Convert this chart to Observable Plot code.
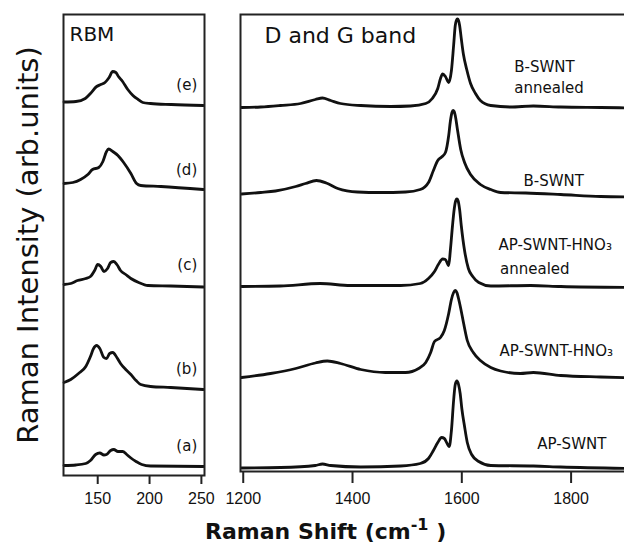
<!DOCTYPE html>
<html><head><meta charset="utf-8">
<script src="https://cdn.jsdelivr.net/npm/d3@7"></script>
<script src="https://cdn.jsdelivr.net/npm/@observablehq/plot@0.6"></script>
<style>
html,body{margin:0;padding:0;background:#fff;}
#chart{position:relative;width:624px;height:546px;overflow:hidden;background:#fff;}
#chart svg{position:absolute;top:0;max-width:none;overflow:visible;background:transparent;}
#xlabel{position:absolute;left:205px;top:519px;font-family:"DejaVu Sans",sans-serif;font-weight:bold;font-size:22px;line-height:26px;white-space:nowrap;color:#111;}
#xlabel .sup{position:relative;top:-0.55em;font-size:16px;line-height:0;}
</style></head><body><div id="chart"><div id="xlabel">Raman Shift (cm<span class="sup">-1</span> )</div></div>
<script>
// ---------- axis text ----------
const yTitle = "Raman Intensity (arb.units)";
const rbmTitle = "RBM";
const dgTitle = "D and G band";
const rbmTicks = [150, 200, 250];
const dgTicks = [1200, 1400, 1600, 1800];

// ---------- RBM spectra (Raman shift cm-1, stacked intensity arb. units) ----------
const rbmShiftA = [117.5,129,138.5,143,148,152,156,158.5,162.5,165.5,169.5,174,178,182,187,192.5,201,252];
const rbmIntA   = [10,10.5,12,15,21,22.5,20.5,21,25,26,24,24,21,17.5,14,11,9.5,9];
const rbmShiftB = [117.5,124,131.5,138.5,143,146,149,152,156,158.5,161.5,164.5,168.5,172,177,182,187,191.5,201,220.5,252];
const rbmIntB   = [93,96,102,109,119,127,130,127,118,117,122,123,118,112,106,101,95,91,89,88,86];
const rbmShiftC = [117.5,124,130.5,138.5,143,147,150,153,156,159.5,162.5,165.5,168.5,172,177,182,189.5,198.5,220.5,252];
const rbmIntC   = [191,192,195,197,199,205,211,209,204,207,213,214,211,205,201,197,193,190,189.5,188.5];
const rbmShiftD = [117.5,126,133.5,140.5,145,151,155,158.5,160.5,164.5,169.5,175,182,187.5,191.5,211,252];
const rbmIntD   = [292,293,296,301,306,308,314,324,326.5,324,320,313,302,292,290,289,286];
const rbmShiftE = [117.5,129,138,143,149,153,157,161,164.5,167.5,170,174,179,184,189,193.5,201,221,252];
const rbmIntE   = [373.5,374,377,382,389,391,393,398,404,403,399,394,386,380,376,373,372,371,370];
const rbmNames  = ["(a)", "(b)", "(c)", "(d)", "(e)"];
const rbmLabelShift = [246, 246, 246, 246, 246];
const rbmLabelInt   = [29, 106, 210, 305, 390];

// ---------- D and G band spectra ----------
const dgShift1 = [1197,1232,1268,1305,1332,1345,1360,1378,1415,1470,1506,1534,1546,1556,1561,1565,1570,1576,1581,1585,1588,1590,1592,1594,1596,1599,1603,1609,1616,1625,1634,1653,1689,1731,1781,1854,1925];
const dgInt1   = [364,364.5,366,368,372,373.5,371,368,366,365,365.5,368,373,383,393,397.5,395,389,401,426,446,451,452.5,451,446,433,417,402,388,378,371,366,364.5,365.5,364.5,364,363.5];
const dgShift2 = [1197,1232,1259,1296,1314,1334,1352,1373,1409,1451,1497,1524,1539,1548,1556,1563,1570,1576,1579,1582,1584,1586,1588,1592,1598,1605,1616,1634,1653,1671,1717,1781,1854,1925];
const dgInt2   = [277.5,279,280.5,285,288,291,288.5,283,279.5,279,279.5,282,289,301,311,314.5,319,336,350,359,361,360,356,342,322,309,297,287,282,279,278.5,277,275,274.5];
const dgShift3 = [1197,1268,1341,1396,1488,1524,1539,1550,1557,1565,1570,1576,1579,1583,1586,1589,1591,1593,1596,1599,1605,1612,1620,1631,1653,1726,1781,1925];
const dgInt3   = [185,185.5,188,186,186,188,193,200,207,212.5,212,206,221,246,262,271,272.5,271,262,246,221,203,195,189,185.5,186,185,184];
const dgShift4 = [1197,1250,1296,1332,1354,1378,1415,1460,1497,1521,1534,1543,1550,1561,1568,1576,1581,1585,1588,1591,1594,1598,1603,1610,1621,1634,1653,1671,1707,1731,1781,1854,1925];
const dgInt4   = [94,98,103,108.5,110.5,108,102,99,99,103,109,119,130,134,141,158,172,179,181,179,173,163,149,131,119,111,104,100.5,98,99,96,94.5,93.5];
const dgShift5 = [1197,1268,1332,1345,1360,1415,1488,1524,1539,1548,1556,1563,1568,1574,1577,1581,1585,1588,1591,1594,1597,1600,1605,1610,1618,1631,1653,1731,1781,1925];
const dgInt5   = [3.5,4,6,7.5,6,4.5,5.5,8,13,21,29,34,33,27,25,41,71,87,90.5,87,78,63,45,29,17,10,6,5.5,4.5,3];
const dgLabelText  = ["B-SWNT", "annealed", "B-SWNT", "AP-SWNT-HNO₃", "annealed", "AP-SWNT-HNO₃", "AP-SWNT"];
const dgLabelShift = [1696, 1696, 1713, 1667, 1670, 1669, 1738];
const dgLabelInt   = [400, 379, 286, 222, 198, 116, 23];

// ---------- build tables ----------
function rows(name, xs, ys) { return xs.map((x, i) => ({name, shift: x, intensity: ys[i]})); }
const rbmData = [
  ...rows("(a)", rbmShiftA, rbmIntA), ...rows("(b)", rbmShiftB, rbmIntB),
  ...rows("(c)", rbmShiftC, rbmIntC), ...rows("(d)", rbmShiftD, rbmIntD),
  ...rows("(e)", rbmShiftE, rbmIntE)
];
const dgData = [
  ...rows("s1", dgShift1, dgInt1), ...rows("s2", dgShift2, dgInt2),
  ...rows("s3", dgShift3, dgInt3), ...rows("s4", dgShift4, dgInt4),
  ...rows("s5", dgShift5, dgInt5)
];
const rbmLabels = rbmNames.map((t, i) => ({t, shift: rbmLabelShift[i], intensity: rbmLabelInt[i]}));
const dgLabels = dgLabelText.map((t, i) => ({t, shift: dgLabelShift[i], intensity: dgLabelInt[i]}));

const ink = "#111";
const fmt = d3.format("d");

const left = Plot.plot({
  width: 240, height: 546,
  marginLeft: 63, marginRight: 36, marginTop: 14, marginBottom: 71,
  style: {fontFamily: "Liberation Sans, Arial, sans-serif", background: "transparent", overflow: "visible"},
  x: {domain: [117, 253]},
  y: {domain: [0, 461], axis: null},
  marks: [
    Plot.line(rbmData, {x: "shift", y: "intensity", z: "name", stroke: ink, strokeWidth: 2.8, curve: "monotone-x"}),
    Plot.frame({stroke: "#222", strokeWidth: 2}),
    Plot.axisX({ticks: rbmTicks, tickFormat: fmt, tickSize: 9, tickPadding: 8, fontSize: 16, strokeWidth: 2, stroke: "#222", fill: ink, label: null}),
    Plot.text(rbmLabels, {x: "shift", y: "intensity", text: "t", textAnchor: "end", lineAnchor: "middle", fontSize: 15, fontFamily: "DejaVu Sans", fill: ink}),
    Plot.text([rbmTitle], {frameAnchor: "top-left", dx: 6, dy: 12, fontSize: 20, fontFamily: "DejaVu Sans", fill: ink}),
    Plot.text([yTitle], {frameAnchor: "left", dx: -35, rotate: -90, textAnchor: "middle", lineAnchor: "middle", fontSize: 29, fontFamily: "DejaVu Sans", fill: ink})
  ]
});
left.style.left = "0px";

const right = Plot.plot({
  width: 430, height: 546,
  marginLeft: 30, marginRight: 0, marginTop: 14, marginBottom: 75,
  style: {fontFamily: "Liberation Sans, Arial, sans-serif", background: "transparent", overflow: "visible"},
  x: {domain: [1195, 1927]},
  y: {domain: [0, 457], axis: null},
  marks: [
    Plot.line(dgData, {x: "shift", y: "intensity", z: "name", stroke: ink, strokeWidth: 2.8, curve: "monotone-x"}),
    Plot.frame({stroke: "#222", strokeWidth: 2}),
    Plot.axisX({ticks: dgTicks, tickFormat: fmt, tickSize: 12, tickPadding: 9, fontSize: 16, strokeWidth: 2, stroke: "#222", fill: ink, label: null}),
    Plot.text(dgLabels, {x: "shift", y: "intensity", text: "t", textAnchor: "start", lineAnchor: "bottom", fontSize: 15, fontFamily: "DejaVu Sans", fill: ink}),
    Plot.text([dgTitle], {frameAnchor: "top-left", dx: 24, dy: 13, fontSize: 22, fontFamily: "DejaVu Sans", fill: ink})
  ]
});
right.style.left = "210px";

const chart = document.getElementById("chart");
chart.insertBefore(right, chart.firstChild);
chart.insertBefore(left, chart.firstChild);
</script>
</body></html>
